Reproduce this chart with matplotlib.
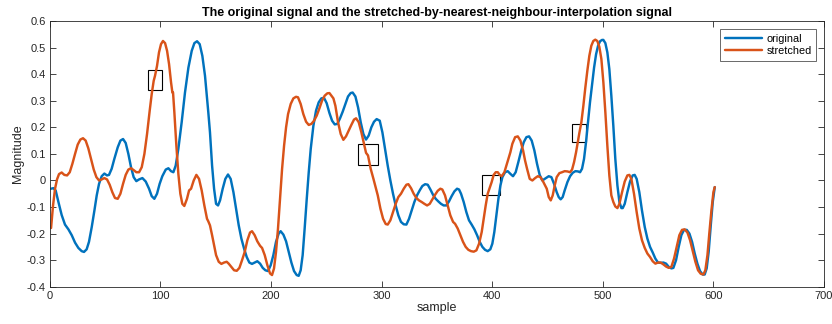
import matplotlib
matplotlib.use("Agg")
import matplotlib.pyplot as plt
from matplotlib.patches import Rectangle

plt.rcParams['font.family'] = ['Liberation Sans', 'DejaVu Sans']

# original signal: sample index and magnitude
orig_x = [1, 3.2, 5.3, 7.7, 10.7, 13.7, 16.8, 19.8, 22.8, 25.8,
          28.8, 30.9, 33.3, 35.4, 37.9, 40.3, 42.4, 44.5, 46.9, 49.3,
          51.7, 53.5, 55.9, 58.3, 61.4, 63.8, 66.2, 68.6, 71.0, 73.4,
          75.8, 78.2, 80.7, 83.7, 86.7, 89.7, 92.1, 94.5, 96.9, 99.3,
          101.7, 104.8, 107.2, 109.6, 111.7, 113.8, 116.2, 119.2, 122.2, 125.3,
          128.3, 130.7, 133.1, 135.5, 137.9, 140.3, 143.3,
          144.8, 146.7, 148.5, 150.3, 152.1, 153.9, 156.3, 158.7, 161.1, 163.5,
          166.0, 168.4, 170.8, 173.2, 175.6, 178.0, 180.4, 182.8, 185.2, 187.6,
          190.1, 192.5, 194.9, 197.3, 199.7, 202.1, 204.5, 206.9, 208.7, 211.2,
          213.6, 216.0, 218.4, 220.8, 223.2, 225.0, 226.8, 228.6, 230.4, 232.3,
          234.1, 235.9, 238.3, 240.7, 243.1, 245.5, 247.9, 250.3, 252.8, 255.2,
          257.6, 260.0, 262.4, 264.8, 267.2, 269.6, 272.0, 273.8, 276.3, 278.7,
          281.1, 283.5, 285.9, 288.3, 290.7, 293.1, 295.5,
          298.3, 300.7, 303.1, 305.5, 307.9, 310.3, 312.7, 315.1, 317.5, 320.0,
          322.4, 324.8, 327.2, 329.6, 332.0, 334.4, 336.8, 339.3, 341.7, 344.1,
          346.5, 348.9, 351.3, 353.7, 356.1, 358.5, 360.9, 363.3, 365.8, 368.2,
          370.0, 371.8, 374.2, 376.6, 379.0, 381.4, 383.9, 386.3, 388.7, 391.1,
          393.5, 395.9, 398.3, 400.1, 401.9, 403.8, 405.6, 407.4, 409.2, 411.6,
          414.0, 416.4, 418.8, 421.2, 423.6, 426.0, 428.5, 430.9, 433.3, 435.7,
          438.1, 440.5, 442.9, 445.3,
          448.6, 451.1, 453.5, 455.9, 458.3, 460.1, 461.9, 463.7, 465.5, 468.0,
          470.4, 472.8, 475.2, 477.6, 479.4, 481.2, 483.0, 484.8, 486.6, 488.4,
          490.3, 492.1, 493.9, 495.7, 497.5, 499.3, 500.5, 502.3, 504.1, 505.9,
          507.7, 509.5, 511.3, 513.2, 515.0, 516.8, 518.0, 519.8, 522.2, 524.6,
          527.0, 528.8, 530.6, 533.0, 535.4, 537.9, 540.3, 542.7, 545.1, 547.5,
          549.9, 552.3, 554.8, 557.2, 559.6, 562.0, 563.8, 566.2, 568.6, 571.0,
          573.4, 575.9, 578.3, 580.7, 583.1, 585.5, 587.9, 590.3, 592.1, 593.9,
          595.7, 597.6, 599.4, 601.2]
orig_y = [-0.031, -0.029, -0.038, -0.08, -0.13, -0.166, -0.184, -0.206, -0.234, -0.254,
          -0.266, -0.269, -0.259, -0.231, -0.175, -0.113, -0.056, -0.0125, 0.016, 0.026,
          0.019, 0.021, 0.044, 0.081, 0.125, 0.15, 0.156, 0.141, 0.1, 0.05,
          0.0125, -0.0025, 0.004, 0.009, -0.004, -0.031, -0.059, -0.069, -0.05, -0.0125,
          0.016, 0.041, 0.046, 0.035, 0.031, 0.056, 0.119, 0.219, 0.331, 0.425,
          0.488, 0.517, 0.524, 0.513, 0.469, 0.394, 0.256,
          0.181, 0.056, -0.031, -0.088, -0.094, -0.075, -0.031, 0.006, 0.0225, 0.006,
          -0.044, -0.106, -0.169, -0.219, -0.256, -0.288, -0.309, -0.314, -0.309, -0.304,
          -0.313, -0.329, -0.338, -0.341, -0.319, -0.281, -0.231, -0.2, -0.191, -0.204,
          -0.229, -0.269, -0.309, -0.341, -0.356, -0.359, -0.338, -0.281, -0.181, -0.069,
          0.031, 0.119, 0.206, 0.263, 0.294, 0.309, 0.311, 0.291, 0.254, 0.225,
          0.211, 0.213, 0.234, 0.259, 0.288, 0.316, 0.329, 0.331, 0.316, 0.275,
          0.219, 0.175, 0.154, 0.169, 0.2, 0.221, 0.231,
          0.225, 0.181, 0.119, 0.056, 0.0, -0.05, -0.094, -0.131, -0.156, -0.165,
          -0.166, -0.144, -0.113, -0.081, -0.056, -0.0375, -0.021, -0.014, -0.016, -0.034,
          -0.054, -0.069, -0.079, -0.088, -0.094, -0.094, -0.079, -0.059, -0.041, -0.031,
          -0.034, -0.05, -0.081, -0.119, -0.15, -0.166, -0.184, -0.206, -0.231, -0.25,
          -0.261, -0.266, -0.259, -0.238, -0.194, -0.131, -0.069, -0.019, 0.0125, 0.031,
          0.035, 0.025, 0.016, 0.031, 0.069, 0.109, 0.144, 0.163, 0.166, 0.15,
          0.113, 0.063, 0.021, 0.0,
          0.009, 0.016, 0.0125, -0.0125, -0.044, -0.0625, -0.071, -0.0625, -0.0375, -0.006,
          0.016, 0.029, 0.035, 0.034, 0.031, 0.044, 0.081, 0.144, 0.219, 0.294,
          0.363, 0.425, 0.475, 0.507, 0.524, 0.529, 0.529, 0.517, 0.482, 0.419,
          0.319, 0.206, 0.081, -0.019, -0.081, -0.104, -0.104, -0.088, -0.044, -0.004,
          0.019, 0.021, 0.006, -0.044, -0.113, -0.175, -0.219, -0.25, -0.271, -0.294,
          -0.309, -0.31, -0.309, -0.313, -0.325, -0.331, -0.329, -0.3, -0.25, -0.206,
          -0.186, -0.186, -0.2, -0.231, -0.275, -0.313, -0.341, -0.354, -0.354, -0.331,
          -0.269, -0.169, -0.081, -0.025]

# stretched signal: sample index and magnitude
str_x = [1.1, 2.9, 4.7, 6.5, 8.3, 10.7, 13.1, 15.6, 18.0, 20.4,
         22.8, 25.2, 27.6, 30.0, 32.4, 34.8, 37.3, 39.7, 42.1, 44.5,
         46.9, 49.3, 51.7, 54.1, 56.5, 58.9, 61.4, 63.8, 66.2, 68.6,
         71.0, 73.4, 75.8, 78.2, 80.7, 83.1, 85.5, 87.9, 90.3, 92.1,
         93.9, 95.1, 96.9, 98.7, 100.5, 102.3, 104.2, 106.0, 107.8, 109.6,
         110.8, 111.4, 112.6, 114.4, 116.2, 118.0, 119.8, 121.6, 124.0, 125.9,
         127.7, 130.1, 132.5, 134.9, 137.3, 139.7, 142.1, 143.3,
         144.8, 146.7, 148.5, 150.3, 152.7, 155.1, 157.5, 159.9, 161.7, 164.1,
         166.6, 169.0, 171.4, 173.8, 176.2, 178.6, 181.0, 182.8, 185.2, 187.6,
         190.1, 191.9, 194.3, 196.7, 199.1, 200.9, 202.7, 204.5, 206.3, 208.1,
         210.0, 211.8, 213.6, 215.4, 217.8, 220.2, 222.6, 224.4, 226.8, 229.2,
         231.7, 234.1, 236.5, 238.9, 241.3, 243.7, 246.1, 248.5, 250.9, 252.8,
         254.6, 256.4, 258.2, 260.6, 263.0, 265.4, 267.8, 270.2, 272.6, 275.0,
         276.9, 279.3, 281.7, 284.1, 285.9, 287.7, 290.1, 292.6,
         296.5, 298.9, 301.3, 303.7, 305.5, 307.9, 310.3, 312.7, 315.1, 317.5,
         320.0, 322.4, 324.2, 326.6, 329.0, 331.4, 333.8, 336.2, 338.7, 341.1,
         343.5, 345.9, 348.3, 350.7, 353.1, 354.9, 357.3, 359.7, 362.1, 364.6,
         366.4, 368.8, 371.2, 373.6, 376.0, 378.4, 380.8, 383.3, 385.7, 388.1,
         390.5, 392.3, 394.1, 395.9, 397.7, 399.5, 401.3, 403.2, 405.0, 406.8,
         408.6, 411.0, 412.8, 414.6, 416.4, 418.2, 420.7, 423.1, 425.5, 427.9,
         429.7, 431.5, 433.9, 436.3, 438.8, 441.2, 443.6, 446.0,
         449.3, 451.1, 452.9, 454.7, 456.5, 458.3, 460.7, 463.1, 465.5, 468.0,
         470.4, 472.2, 474.0, 475.8, 477.6, 478.8, 480.6, 482.4, 484.2, 486.0,
         487.8, 489.6, 491.4, 493.2, 495.0, 496.8, 498.7, 500.5, 502.3, 504.1,
         505.9, 507.7, 509.5, 511.3, 513.2, 515.0, 517.4, 519.8, 522.2, 524.0,
         525.8, 528.2, 530.6, 533.0, 535.4, 537.9, 540.3, 542.7, 545.1, 547.5,
         549.9, 552.3, 554.8, 557.2, 559.6, 562.0, 564.4, 566.8, 569.2, 571.6,
         574.0, 576.5, 578.9, 581.3, 583.7, 586.1, 588.5, 590.9, 592.7, 594.6,
         596.4, 598.2, 600.0, 601.2]
str_y = [-0.179, -0.094, -0.031, 0.004, 0.024, 0.030, 0.021, 0.019, 0.031, 0.063,
         0.1, 0.135, 0.154, 0.159, 0.15, 0.121, 0.081, 0.041, 0.0125, 0.0,
         0.004, 0.009, 0.004, -0.016, -0.044, -0.066, -0.069, -0.05, -0.0125, 0.021,
         0.041, 0.046, 0.039, 0.031, 0.031, 0.05, 0.1, 0.175, 0.263, 0.325,
         0.375, 0.394, 0.431, 0.482, 0.513, 0.525, 0.517, 0.488, 0.438, 0.369,
         0.331, 0.331, 0.256, 0.131, 0.025, -0.05, -0.088, -0.096, -0.069, -0.0375,
         -0.031, 0.0, 0.021, 0.006, -0.0375, -0.094, -0.144, -0.154,
         -0.169, -0.206, -0.244, -0.281, -0.306, -0.314, -0.309, -0.306, -0.313, -0.325,
         -0.338, -0.34, -0.329, -0.3, -0.269, -0.225, -0.196, -0.191, -0.206, -0.229,
         -0.246, -0.254, -0.281, -0.319, -0.35, -0.356, -0.331, -0.269, -0.181, -0.069,
         0.044, 0.131, 0.2, 0.25, 0.288, 0.309, 0.315, 0.313, 0.288, 0.25,
         0.221, 0.209, 0.213, 0.225, 0.244, 0.271, 0.3, 0.319, 0.328, 0.329,
         0.319, 0.309, 0.281, 0.219, 0.175, 0.153, 0.166, 0.188, 0.209, 0.229,
         0.234, 0.219, 0.181, 0.138, 0.104, 0.094, 0.044, 0.006,
         -0.056, -0.106, -0.144, -0.164, -0.166, -0.15, -0.119, -0.088, -0.0625, -0.05,
         -0.031, -0.016, -0.014, -0.029, -0.05, -0.066, -0.075, -0.081, -0.088, -0.094,
         -0.088, -0.071, -0.054, -0.039, -0.031, -0.034, -0.056, -0.094, -0.131, -0.156,
         -0.163, -0.181, -0.206, -0.231, -0.25, -0.261, -0.266, -0.268, -0.263, -0.238,
         -0.194, -0.144, -0.094, -0.05, -0.0275, -0.006, 0.021, 0.031, 0.031, 0.021,
         0.016, 0.031, 0.056, 0.081, 0.106, 0.138, 0.163, 0.166, 0.15, 0.113,
         0.075, 0.044, 0.006, 0.0, 0.009, 0.016, 0.0125, -0.004,
         -0.031, -0.0625, -0.075, -0.056, -0.019, 0.0125, 0.0275, 0.031, 0.035, 0.034,
         0.031, 0.041, 0.069, 0.106, 0.15, 0.179, 0.219, 0.281, 0.35, 0.413,
         0.469, 0.507, 0.525, 0.53, 0.525, 0.504, 0.457, 0.369, 0.256, 0.131,
         0.019, -0.056, -0.081, -0.098, -0.104, -0.088, -0.044, -0.004, 0.019, 0.021,
         0.006, -0.05, -0.119, -0.181, -0.225, -0.254, -0.275, -0.288, -0.304, -0.313,
         -0.309, -0.309, -0.316, -0.324, -0.329, -0.325, -0.294, -0.25, -0.206, -0.186,
         -0.184, -0.196, -0.225, -0.266, -0.306, -0.338, -0.351, -0.354, -0.338, -0.281,
         -0.194, -0.113, -0.044, -0.025]

# marker boxes: centre sample, centre magnitude, width (samples), height (magnitude)
box_cx = [95.1, 287.5, 399.1, 478.6]
box_cy = [0.378, 0.099, -0.0175, 0.178]
box_w = [12.1, 18.4, 16.0, 12.4]
box_h = [0.074, 0.078, 0.078, 0.069]

xticks = [0, 100, 200, 300, 400, 500, 600, 700]
yticks = [-0.4, -0.3, -0.2, -0.1, 0, 0.1, 0.2, 0.3, 0.4, 0.5, 0.6]
ytick_labels = ['-0.4', '-0.3', '-0.2', '-0.1', '0', '0.1', '0.2', '0.3', '0.4', '0.5', '0.6']

fig = plt.figure(figsize=(8.32, 3.24), dpi=100)
ax = fig.add_axes([0.0599, 0.115, 0.9305, 0.820])

ax.plot(orig_x, orig_y, color='#0072BD', lw=1.75, label='original',
        solid_joinstyle='round', solid_capstyle='round')
ax.plot(str_x, str_y, color='#D95319', lw=1.75, label='stretched',
        solid_joinstyle='round', solid_capstyle='round')

for cx, cy, w, h in zip(box_cx, box_cy, box_w, box_h):
    ax.add_patch(Rectangle((cx - w / 2, cy - h / 2), w, h, fill=False,
                           edgecolor='black', lw=0.8))

ax.set_xlim(0, 700)
ax.set_ylim(-0.4, 0.6)
ax.set_xticks(xticks)
ax.set_yticks(yticks)
ax.set_yticklabels(ytick_labels)
ax.tick_params(direction='in', length=4, width=0.6, top=True, right=True,
               labelsize=8, colors='#262626', pad=3)
for sp in ax.spines.values():
    sp.set_color('#262626')
    sp.set_linewidth(0.6)

ax.set_xlabel('sample', fontsize=9, color='#262626', labelpad=1)
ax.set_ylabel('Magnitude', fontsize=9, color='#262626', labelpad=2)
ax.set_title('The original signal and the stretched-by-nearest-neighbour-interpolation signal',
             fontsize=9, fontweight='bold', family=['Liberation Sans Narrow', 'Liberation Sans'],
             pad=4)

leg = ax.legend(loc='upper right', fontsize=7.8, frameon=True, fancybox=False,
                edgecolor='#262626', borderpad=0.45, handlelength=3.4, handletextpad=0.4,
                labelspacing=0.25, borderaxespad=0.7)
leg.get_frame().set_linewidth(0.6)

fig.savefig('out.png', dpi=100)
